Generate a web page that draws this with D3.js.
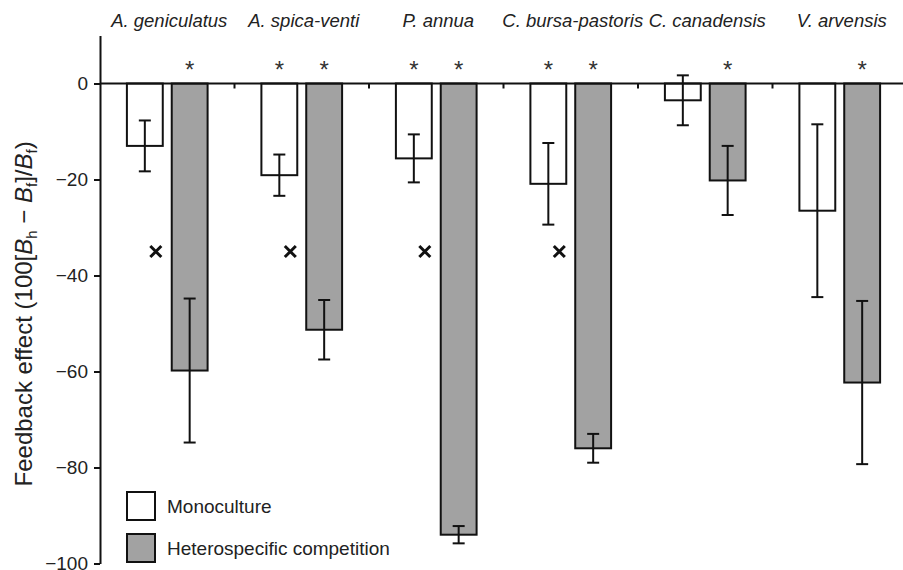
<!DOCTYPE html>
<html>
<head>
<meta charset="utf-8">
<script src="https://cdn.jsdelivr.net/npm/d3@7"></script>
<style>
  body { margin: 0; background: #fff; }
  svg { display: block; font-family: "Liberation Sans", Arial, sans-serif; }
</style>
</head>
<body>
<div id="chart"></div>
<script>
// species and group means / errors
const species = ["A. geniculatus", "A. spica-venti", "P. annua", "C. bursa-pastoris", "C. canadensis", "V. arvensis"];
const monoMean = [-13.0, -19.1, -15.6, -20.9, -3.5, -26.5];
const monoErr = [5.3, 4.3, 5.0, 8.5, 5.2, 18.0];
const hetMean = [-59.8, -51.3, -94.0, -76.0, -20.2, -62.3];
const hetErr = [15.0, 6.2, 1.8, 3.0, 7.2, 17.0];
const monoSig = [false, true, true, true, false, false];
const hetSig = [true, true, true, true, true, true];
const crossValue = [-35, -35, -35, -35, null, null];
const yTicks = [0, -20, -40, -60, -80, -100];
const groups = ["Monoculture", "Heterospecific competition"];
const fills = ["#ffffff", "#a2a2a2"];

const width = 903;
const height = 570;
const margin = {top: 35.5, right: -4, bottom: 6.5, left: 100};

const svg = d3.select("#chart")
    .append("svg")
    .attr("width", width)
    .attr("height", height);

const xScale = d3.scaleBand()
    .domain(species)
    .range([margin.left, width - margin.right])
    .padding(0);

const subScale = d3.scaleBand()
    .domain(groups)
    .range([0, xScale.bandwidth()])
    .paddingInner(0.2)
    .paddingOuter(0.6);

const yScale = d3.scaleLinear()
    .domain([-100, 10])
    .range([height - margin.bottom, margin.top]);

const colorScale = d3.scaleOrdinal().domain(groups).range(fills);

// flatten into one row per bar
const rows = [];
species.forEach((sp, i) => {
    rows.push({sp, group: groups[0], mean: monoMean[i], err: monoErr[i], sig: monoSig[i]});
    rows.push({sp, group: groups[1], mean: hetMean[i], err: hetErr[i], sig: hetSig[i]});
});
const barX = d => xScale(d.sp) + subScale(d.group);
const barMid = d => barX(d) + subScale.bandwidth() / 2;

//y axis
const leftAxis = d3.axisLeft(yScale)
    .tickValues(yTicks)
    .tickSize(6)
    .tickSizeOuter(0)
    .tickPadding(6)
    .tickFormat(d => d < 0 ? "\u2212" + Math.abs(d) : d);

const yAxisG = svg.append("g")
    .attr("transform", `translate(${margin.left}, 0)`)
    .call(leftAxis);
yAxisG.select(".domain").attr("stroke", "#111").attr("stroke-width", 2);
yAxisG.selectAll(".tick line").attr("stroke", "#111").attr("stroke-width", 2);
yAxisG.selectAll(".tick text")
    .attr("fill", "#222")
    .style("font-size", "19px")
    .style("font-family", "'Liberation Sans', Arial, sans-serif");

// bars
svg.append("g")
    .selectAll("rect")
    .data(rows)
    .join("rect")
        .attr("x", barX)
        .attr("y", yScale(0))
        .attr("width", subScale.bandwidth())
        .attr("height", d => yScale(d.mean) - yScale(0))
        .attr("fill", d => colorScale(d.group))
        .attr("stroke", "#111")
        .attr("stroke-width", 2);

// zero line + small ticks between species
svg.append("line")
    .attr("x1", margin.left)
    .attr("x2", width)
    .attr("y1", yScale(0))
    .attr("y2", yScale(0))
    .attr("stroke", "#111")
    .attr("stroke-width", 2);

svg.append("g")
    .selectAll("line")
    .data(species.slice(1))
    .join("line")
        .attr("x1", d => xScale(d))
        .attr("x2", d => xScale(d))
        .attr("y1", yScale(0))
        .attr("y2", yScale(0) + 5)
        .attr("stroke", "#111")
        .attr("stroke-width", 2);

// error bars
const errG = svg.append("g").attr("stroke", "#111").attr("stroke-width", 2);
errG.selectAll(".stem")
    .data(rows)
    .join("line")
        .attr("class", "stem")
        .attr("x1", barMid)
        .attr("x2", barMid)
        .attr("y1", d => yScale(d.mean + d.err))
        .attr("y2", d => yScale(d.mean - d.err));
const caps = rows.flatMap(d => [{d, v: d.mean + d.err}, {d, v: d.mean - d.err}]);
errG.selectAll(".cap")
    .data(caps)
    .join("line")
        .attr("class", "cap")
        .attr("x1", c => barMid(c.d) - 6)
        .attr("x2", c => barMid(c.d) + 6)
        .attr("y1", c => yScale(c.v))
        .attr("y2", c => yScale(c.v));

// significance asterisks
svg.append("g")
    .selectAll("text")
    .data(rows.filter(d => d.sig))
    .join("text")
        .attr("x", barMid)
        .attr("y", yScale(0) - 6)
        .attr("text-anchor", "middle")
        .attr("fill", "#333")
        .style("font-size", "24px")
        .text("*");

// cross markers
const crossData = species.map((sp, i) => ({sp, v: crossValue[i]})).filter(d => d.v !== null);
svg.append("g")
    .selectAll("path")
    .data(crossData)
    .join("path")
        .attr("d", d => {
            const cx = xScale(d.sp) + xScale.bandwidth() * 0.415;
            const cy = yScale(d.v);
            const s = 5.5;
            return `M${cx - s},${cy - s}L${cx + s},${cy + s}M${cx - s},${cy + s}L${cx + s},${cy - s}`;
        })
        .attr("stroke", "#111")
        .attr("stroke-width", 3);

// species names
svg.append("g")
    .selectAll("text")
    .data(species)
    .join("text")
        .attr("x", d => xScale(d) + xScale.bandwidth() / 2 + 2)
        .attr("y", 27)
        .attr("text-anchor", "middle")
        .attr("font-style", "italic")
        .attr("fill", "#222")
        .style("font-size", "18.5px")
        .text(d => d);

// y axis title with subscripts
const yTitle = svg.append("text")
    .attr("transform", `translate(32, ${yScale(-48)}) rotate(-90)`)
    .attr("text-anchor", "middle")
    .attr("fill", "#222")
    .style("font-size", "24px");
yTitle.append("tspan").text("Feedback effect (100[");
yTitle.append("tspan").attr("font-style", "italic").text("B");
yTitle.append("tspan").attr("dy", 5).style("font-size", "15px").text("h");
yTitle.append("tspan").attr("dy", -5).text(" \u2212 ");
yTitle.append("tspan").attr("font-style", "italic").text("B");
yTitle.append("tspan").attr("dy", 5).style("font-size", "15px").text("f");
yTitle.append("tspan").attr("dy", -5).text("]/");
yTitle.append("tspan").attr("font-style", "italic").text("B");
yTitle.append("tspan").attr("dy", 5).style("font-size", "15px").text("f");
yTitle.append("tspan").attr("dy", -5).text(")");

// legend
const legend = svg.append("g")
    .attr("transform", `translate(127, 492)`);
const legendItems = legend.selectAll("g")
    .data(groups)
    .join("g")
        .attr("transform", (d, i) => `translate(0, ${i * 42})`);
legendItems.append("rect")
    .attr("width", 28)
    .attr("height", 28)
    .attr("fill", d => colorScale(d))
    .attr("stroke", "#111")
    .attr("stroke-width", 2);
legendItems.append("text")
    .attr("x", 40)
    .attr("y", 20.5)
    .attr("fill", "#222")
    .style("font-size", "19px")
    .text(d => d);
</script>
</body>
</html>
